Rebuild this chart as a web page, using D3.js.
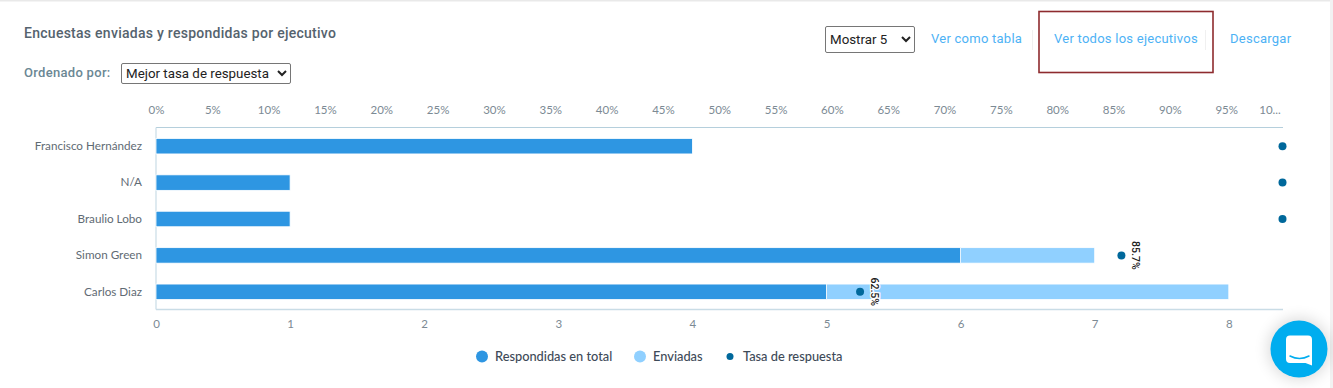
<!DOCTYPE html>
<html>
<head>
<meta charset="utf-8">
<script src="https://cdn.jsdelivr.net/npm/d3@7"></script>
<style>
  html, body { margin: 0; padding: 0; background: #fff; overflow: hidden; }
  #wrap { position: relative; width: 1333px; height: 388px; overflow: hidden; }
  svg { position: absolute; left: 0; top: 0; }
  select { position: absolute; box-sizing: border-box; font-family: Roboto, sans-serif; font-size: 13.33px;
    color: #222; background: #fff; border: 1px solid #767676; border-radius: 2px; padding: 0; margin: 0; }
  .link { font-family: Roboto, sans-serif; font-size: 13px; fill: #4db2f5; letter-spacing: .25px; }
  .pct text, .count text { font-family: Lato, sans-serif; font-size: 11.5px; fill: #7c8a94; }
  .names text { font-family: Lato, sans-serif; font-size: 11.7px; fill: #5f6b74; }
  .legend text { font-family: Lato, sans-serif; font-size: 12.8px; font-weight: 500; fill: #3e4a58; }
</style>
</head>
<body>
<div id="wrap"></div>
<script>
const ejecutivos = ["Francisco Hernández", "N/A", "Braulio Lobo", "Simon Green", "Carlos Diaz"];
const respondidas = [4, 1, 1, 6, 5];
const enviadas = [4, 1, 1, 7, 8];
const tasa = [100, 100, 100, 85.7, 62.5];
const tasaLabels = ["", "", "", "85.7%", "62.5%"];
const pctTicks = [0, 5, 10, 15, 20, 25, 30, 35, 40, 45, 50, 55, 60, 65, 70, 75, 80, 85, 90, 95, 100];
const countTicks = [0, 1, 2, 3, 4, 5, 6, 7, 8];
const leyenda = ["Respondidas en total", "Enviadas", "Tasa de respuesta"];
const links = ["Ver como tabla", "Ver todos los ejecutivos", "Descargar"];

const colors = { resp: "#2e96e2", env: "#90d0ff", tasa: "#00689b" };

let wrap = d3.select("#wrap");
let svg = wrap.append("svg").attr("width", 1333).attr("height", 388);

function translate(x, y) {
  return 'translate(' + x + ',' + y + ')';
}

// page frame
svg.append("rect").attr("width", 1333).attr("height", 1.5).attr("fill", "#e9e9e9");
svg.append("rect").attr("x", 1330).attr("width", 3).attr("height", 388).attr("fill", "#f2f2f2");

// header
svg.append("text").attr("x", 24).attr("y", 38)
  .style("font", "500 14px Roboto, sans-serif").style("fill", "#55636e").style("letter-spacing", ".27px")
  .text("Encuestas enviadas y respondidas por ejecutivo");
svg.append("text").attr("x", 24).attr("y", 77)
  .style("font", "500 13px Roboto, sans-serif").style("fill", "#6b8794").style("letter-spacing", ".3px")
  .text("Ordenado por:");

wrap.append("select").style("left", "121px").style("top", "63px").style("width", "170px").style("height", "21px")
  .append("option").text("Mejor tasa de respuesta");
wrap.append("select").style("left", "825px").style("top", "26px").style("width", "90px").style("height", "27px")
  .append("option").text("Mostrar 5");

svg.selectAll(".link").data(links).enter().append("text")
  .attr("class", "link")
  .attr("x", (d, i) => [931, 1054, 1230][i])
  .attr("y", 43)
  .text(d => d);
svg.selectAll(".sep").data([1032, 1205]).enter().append("rect")
  .attr("class", "sep").attr("x", d => d).attr("y", 30).attr("width", 1).attr("height", 20).attr("fill", "#f0f0f0");
svg.append("rect").attr("x", 1039).attr("y", 11.5).attr("width", 174).attr("height", 61)
  .attr("fill", "none").attr("stroke", "#8e2b2e").attr("stroke-width", 1.6);

// chart
const left = 156, top0 = 127.5, bottom = 309.5;

let x = d3.scaleLinear().domain([0, 1]).range([left, left + 134.1]);
let xPct = d3.scaleLinear().domain([0, 100]).range([left, 1282.5]);
let y = d3.scaleBand().domain(ejecutivos).range([top0 + 0.5, bottom + 0.5]);

svg.append("line").attr("x1", left).attr("x2", 1283).attr("y1", top0).attr("y2", top0).attr("stroke", "#b5cfdc");
svg.append("line").attr("x1", left).attr("x2", 1283).attr("y1", bottom).attr("y2", bottom).attr("stroke", "#c9dce6").attr("stroke-width", 1.5);
svg.append("line").attr("x1", left).attr("x2", left).attr("y1", top0).attr("y2", bottom).attr("stroke", "#c9dce6").attr("stroke-width", 1.2);

let pctAxis = svg.append("g").attr("class", "pct")
  .attr("transform", translate(0, 114))
  .call(d3.axisTop(xPct).tickValues(pctTicks).tickSize(0).tickPadding(0)
    .tickFormat(d => d === 100 ? "10..." : d + "%"));
pctAxis.select(".domain").remove();
pctAxis.selectAll(".tick text").attr("text-anchor", "middle").attr("dy", 0)
  .filter(d => d === 100).attr("dx", -13);

let countAxis = svg.append("g").attr("class", "count")
  .attr("transform", translate(0, 320))
  .call(d3.axisBottom(x).tickValues(countTicks).tickSize(0).tickPadding(0).tickFormat(d3.format("d")));
countAxis.select(".domain").remove();

let names = svg.append("g").attr("class", "names")
  .attr("transform", translate(142, 0))
  .call(d3.axisLeft(y).tickSize(0).tickPadding(0));
names.select(".domain").remove();

const barH = 15.5;
let rows = svg.selectAll(".row").data(ejecutivos).enter().append("g").attr("class", "row");

rows.append("rect")
  .attr("x", (d, i) => x(respondidas[i]))
  .attr("y", d => y(d) + y.bandwidth() / 2 - barH / 2)
  .attr("width", (d, i) => x(enviadas[i]) - x(respondidas[i]))
  .attr("height", barH)
  .attr("fill", colors.env)
  .attr("stroke", "#fff").attr("stroke-width", 0.8);

rows.append("rect")
  .attr("x", x(0))
  .attr("y", d => y(d) + y.bandwidth() / 2 - barH / 2)
  .attr("width", (d, i) => x(respondidas[i]) - x(0))
  .attr("height", barH)
  .attr("fill", colors.resp)
  .attr("stroke", "#fff").attr("stroke-width", 0.8);

rows.append("circle")
  .attr("cx", (d, i) => xPct(tasa[i]))
  .attr("cy", d => y(d) + y.bandwidth() / 2)
  .attr("r", 4)
  .attr("fill", colors.tasa);

rows.append("text")
  .attr("transform", (d, i) => translate(xPct(tasa[i]) + 14.5, y(d) + y.bandwidth() / 2) + " rotate(90)")
  .attr("text-anchor", "middle")
  .attr("dy", "0.35em")
  .style("font", "500 10.5px Roboto, sans-serif")
  .style("fill", "#1c1c1c")
  .style("paint-order", "stroke")
  .style("stroke", "#fff")
  .style("stroke-width", 2.5)
  .text((d, i) => tasaLabels[i]);

// legend
let legend = svg.append("g").attr("class", "legend");
let items = legend.selectAll("g").data(leyenda).enter().append("g")
  .attr("transform", (d, i) => translate([482, 640, 730][i], 356.5));
items.append("circle")
  .attr("r", (d, i) => i === 2 ? 3.5 : 6)
  .attr("fill", (d, i) => [colors.resp, colors.env, colors.tasa][i]);
items.append("text").attr("x", 13).attr("dy", "0.35em").text(d => d);

// chat bubble
const defs = svg.append("defs");
const blur = defs.append("filter").attr("id", "soft").attr("x", "-50%").attr("y", "-50%").attr("width", "200%").attr("height", "200%");
blur.append("feGaussianBlur").attr("stdDeviation", 8);
svg.append("circle").attr("cx", 1299).attr("cy", 349).attr("r", 30).attr("fill", "#000").attr("opacity", .16).attr("filter", "url(#soft)");
svg.append("circle").attr("cx", 1299).attr("cy", 349).attr("r", 28.5).attr("fill", "#00adef");
svg.append("path")
  .attr("d", "M1290 335.5 h18 a4 4 0 0 1 4 4 v26 l-6.5 -2.5 h-15.5 a4 4 0 0 1 -4 -4 v-19.5 a4 4 0 0 1 4 -4 z")
  .attr("fill", "#fff");
svg.append("path")
  .attr("d", "M1290 356 q9.5 5 19 0")
  .attr("fill", "none").attr("stroke", "#00adef").attr("stroke-width", 1.5).attr("stroke-linecap", "round");
</script>
</body>
</html>
